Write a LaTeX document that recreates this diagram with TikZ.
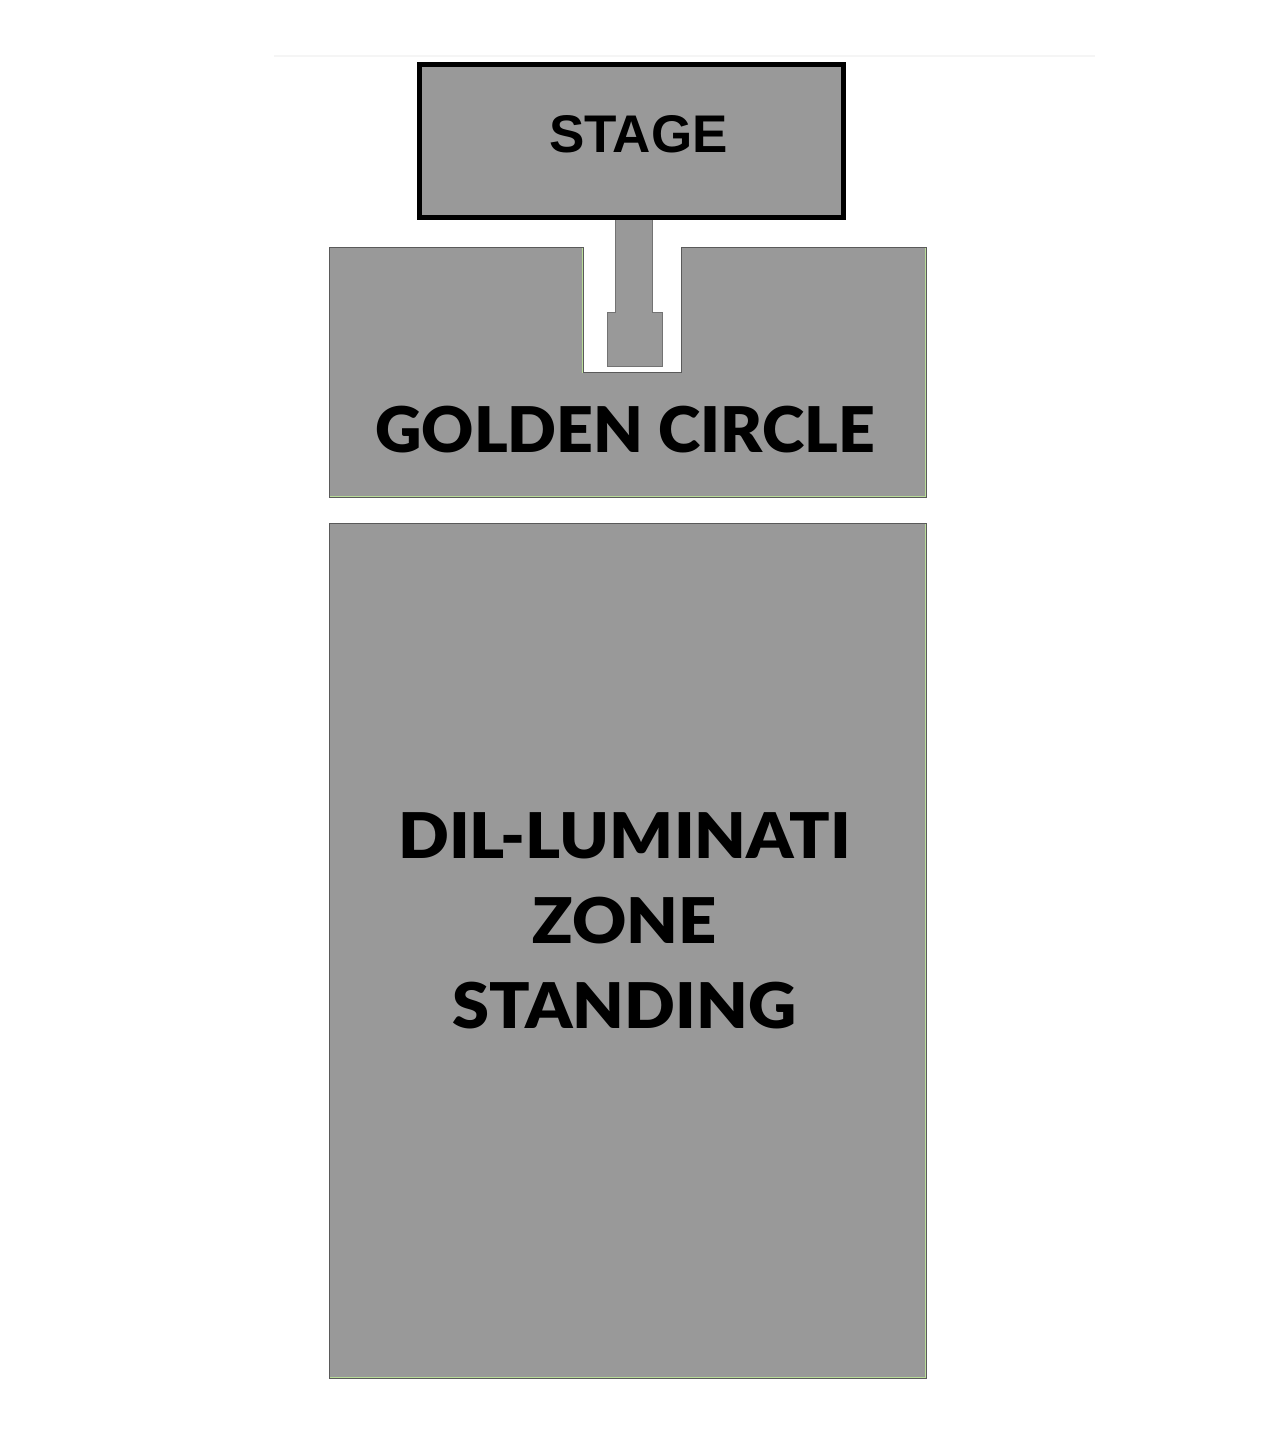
\documentclass[tikz,border=0pt]{standalone}
\usepackage{fontspec}
\setmainfont{Liberation Sans}
\newfontfamily\zonefont{Lato Black}
\definecolor{zonegray}{HTML}{999999}
\definecolor{zoneedge}{HTML}{5A5A5A}
\definecolor{zonegreen}{HTML}{B8DC98}
\begin{document}
\begin{tikzpicture}[x=1pt,y=-1pt,
    zonefill/.style={fill=zonegray},
    zoneline/.style={draw=zoneedge, line width=1pt},
    zonelabel/.style={font=\zonefont\fontsize{63}{85}\selectfont, align=center, inner sep=0pt}]
  \useasboundingbox (0,0) rectangle (1267,1449);
  \draw[black!4, line width=2pt] (274,56) -- (1095,56);
  \begin{scope}
    \fill[zonefill] (615,210) -- (652,210) -- (652,312) -- (662,312) -- (662,366)
      -- (607,366) -- (607,312) -- (615,312) -- cycle;
    \draw[zoneline, draw=black!55] (615,218) -- (615,312) -- (607,312) -- (607,366)
      -- (662,366) -- (662,312) -- (652,312) -- (652,218);
  \end{scope}
  \draw[zonefill, draw=black, line width=5pt] (419.5,64.5) rectangle (843.5,217.5);
  \begin{scope}
    \clip (329,247) -- (583,247) -- (583,372) -- (681,372) -- (681,247) -- (926,247)
      -- (926,497) -- (329,497) -- cycle;
    \fill[zonefill] (329,247) rectangle (926,497);
    \draw[zonegreen, line width=2.5pt] (329,247) -- (583,247) -- (583,372) -- (681,372)
      -- (681,247) -- (926,247) -- (926,497) -- (329,497) -- cycle;
  \end{scope}
  \draw[zoneline] (329,247) -- (583,247) -- (583,372) -- (681,372) -- (681,247)
    -- (926,247) -- (926,497) -- (329,497) -- cycle;
  \begin{scope}
    \clip (329,523) rectangle (926,1378);
    \fill[zonefill] (329,523) rectangle (926,1378);
    \draw[zonegreen, line width=2.5pt] (329,523) rectangle (926,1378);
  \end{scope}
  \draw[zoneline] (329,523) rectangle (926,1378);
  \draw
    (638.4,134) node[inner sep=0pt, font=\bfseries\fontsize{53}{60}\selectfont] (stage){STAGE}
    (625,430) node[zonelabel, xscale=1.02, transform shape] (golden){GOLDEN CIRCLE}
    (624.5,920.5) node[zonelabel, xscale=1.06, transform shape] (standing){DIL-LUMINATI\\ZONE\\STANDING};
\end{tikzpicture}
\end{document}
